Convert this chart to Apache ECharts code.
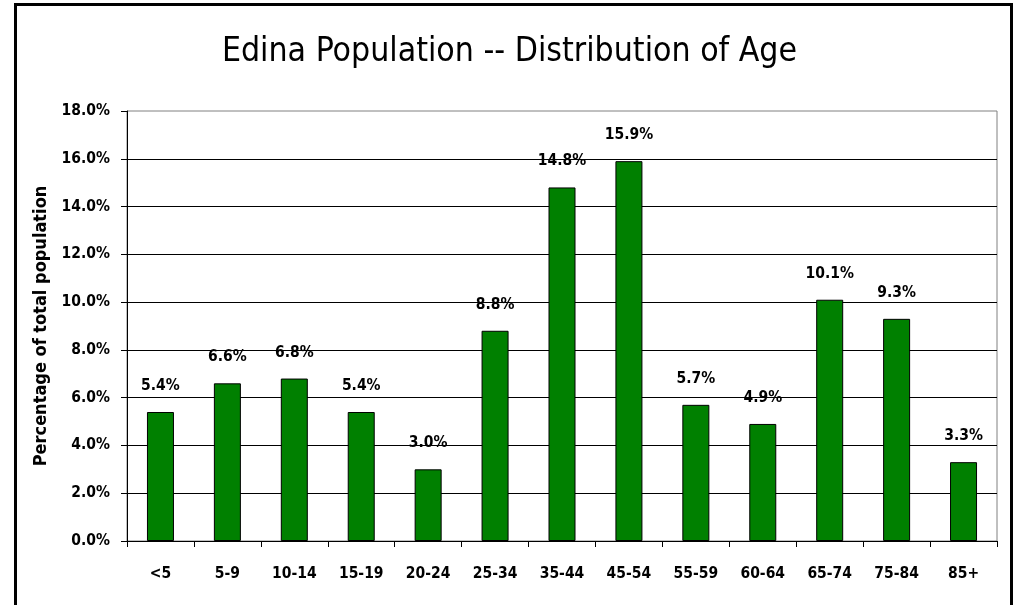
<!DOCTYPE html>
<html>
<head>
<meta charset="utf-8">
<script src="https://cdn.jsdelivr.net/npm/echarts@6/dist/echarts.min.js"></script>
<style>
html, body { margin: 0; padding: 0; background: #fff; }
#chart { width: 1019px; height: 605px; }
</style>
</head>
<body>
<div id="chart"></div>
<script>
// age groups and share of total population (%)
const ageGroups = ['<5', '5-9', '10-14', '15-19', '20-24', '25-34', '35-44', '45-54', '55-59', '60-64', '65-74', '75-84', '85+']
const popShare = [5.4, 6.6, 6.8, 5.4, 3.0, 8.8, 14.8, 15.9, 5.7, 4.9, 10.1, 9.3, 3.3]

const fontFam = "'Liberation Sans Narrow', 'Arial Narrow', 'DejaVu Sans Condensed', sans-serif"

const chart = echarts.init(document.getElementById('chart'), null, { renderer: 'canvas' })

chart.setOption({
    animation: false,
    backgroundColor: '#fff',
    title: {
        text: 'Edina Population -- Distribution of Age',
        left: 'center',
        top: 30,
        textStyle: {
            fontFamily: fontFam,
            fontSize: 33.5,
            fontWeight: 'normal',
            color: '#000'
        }
    },
    // outer chart frame
    graphic: [{
        type: 'rect',
        shape: { x: 15.5, y: 4.5, width: 996, height: 700 },
        style: { fill: 'none', stroke: '#000', lineWidth: 3 },
        silent: true
    }],
    grid: {
        left: 127,
        right: 22,
        top: 111,
        bottom: 64,
        show: true,
        borderColor: '#808080',
        borderWidth: 1,
        containLabel: false
    },
    xAxis: {
        type: 'category',
        data: ageGroups,
        axisLine: { lineStyle: { color: '#000', width: 1 } },
        axisTick: { show: true, length: 6, alignWithLabel: false, lineStyle: { color: '#000' } },
        axisLabel: {
            margin: 25,
            interval: 0,
            color: '#000',
            fontFamily: fontFam,
            fontSize: 15.5,
            fontWeight: 'bold'
        },
        splitLine: { show: false }
    },
    yAxis: {
        type: 'value',
        min: 0,
        max: 18,
        interval: 2,
        name: 'Percentage of total population',
        nameLocation: 'middle',
        nameGap: 64,
        nameTextStyle: {
            fontFamily: fontFam,
            fontSize: 18,
            fontWeight: 'bold',
            color: '#000'
        },
        axisLine: { show: true, lineStyle: { color: '#000', width: 1 } },
        axisTick: { show: true, length: 6, lineStyle: { color: '#000' } },
        axisLabel: {
            margin: 17,
            color: '#000',
            fontFamily: fontFam,
            fontSize: 15.5,
            fontWeight: 'bold',
            formatter: v => v.toFixed(1) + '%'
        },
        splitLine: {
            show: true,
            showMinLine: false,
            showMaxLine: false,
            lineStyle: { color: '#000', width: 1 }
        }
    },
    series: [{
        type: 'bar',
        data: popShare,
        barWidth: 27,
        itemStyle: {
            color: '#008000',
            borderColor: '#000',
            borderWidth: 1
        },
        label: {
            show: true,
            position: 'top',
            distance: 18,
            color: '#000',
            fontFamily: fontFam,
            fontSize: 15.5,
            fontWeight: 'bold',
            formatter: p => p.value.toFixed(1) + '%'
        }
    }]
})
</script>
</body>
</html>
